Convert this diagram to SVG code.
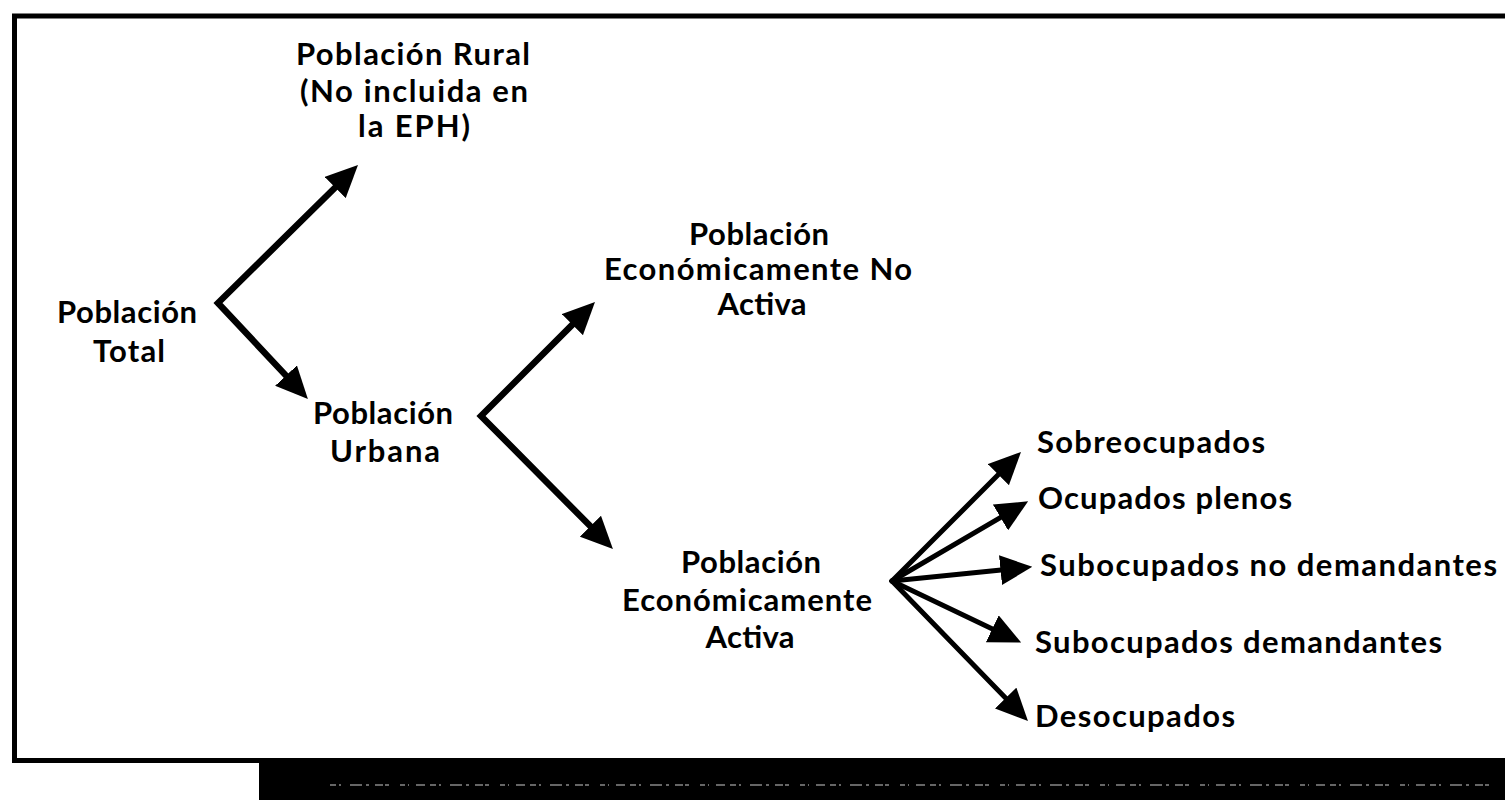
<svg xmlns="http://www.w3.org/2000/svg" width="1505" height="800" viewBox="0 0 1505 800">
<style>
.t{font-family:Lato,"Open Sans","Liberation Sans",sans-serif;font-weight:700;font-size:31px;fill:#000}
.c{text-anchor:middle}
.a{fill:none;stroke:#000;stroke-width:6.5;stroke-linejoin:miter;marker-end:url(#ah)}
.f{fill:none;stroke:#000;stroke-width:5;stroke-linecap:round;marker-end:url(#ah)}
</style>
<defs>
<marker id="ah" markerUnits="userSpaceOnUse" markerWidth="32" markerHeight="30" viewBox="0 0 30 28" refX="10" refY="14" orient="auto-start-reverse">
<path d="M0,0 L30,14 L0,28 z" fill="#000"/>
</marker>
</defs>
<rect width="1505" height="800" fill="#fff"/>
<g id="frame">
<path d="M1505,16 H14.5 V760.5 H1505" fill="none" stroke="#000" stroke-width="5"/>
<rect x="259" y="763" width="1246" height="37" fill="#000"/>
<line x1="330" y1="785" x2="1500" y2="785" stroke="#ccc" stroke-width="2" stroke-dasharray="6 3 2 9 12 4 3 6 8 2 4 11 5 3 1 7 9 5" opacity="0.5"/>
</g>
<g id="connectors">
<path class="a" d="M342.8,180 L218,303 L293.3,383.4" style="marker-start:url(#ah)"/>
<path class="a" d="M579.9,317.1 L481,416 L597.9,533.8" style="marker-start:url(#ah)"/>
<line class="f" x1="892" y1="581" x2="1005.9" y2="467.1"/>
<line class="f" x1="892" y1="581" x2="1009.7" y2="512.1"/>
<line class="f" x1="892" y1="581" x2="1011.1" y2="569"/>
<line class="f" x1="892" y1="581" x2="1001.9" y2="633.4"/>
<line class="f" x1="892" y1="581" x2="1013.1" y2="705.7"/>
</g>
<g id="total"><text class="t c" x="127" y="323" textLength="140" lengthAdjust="spacing">Población</text><text class="t c" x="129" y="362" textLength="72" lengthAdjust="spacing">Total</text></g>
<g id="rural"><text class="t c" x="413" y="65" textLength="234" lengthAdjust="spacing">Población Rural</text><text class="t c" x="414" y="102" textLength="228" lengthAdjust="spacing">(No incluida en</text><text class="t c" x="414" y="137" textLength="112" lengthAdjust="spacing">la EPH)</text></g>
<g id="urbana"><text class="t c" x="383" y="424" textLength="140" lengthAdjust="spacing">Población</text><text class="t c" x="385" y="462" textLength="110" lengthAdjust="spacing">Urbana</text></g>
<g id="pena"><text class="t c" x="759" y="245" textLength="140" lengthAdjust="spacing">Población</text><text class="t c" x="758" y="280" textLength="308" lengthAdjust="spacing">Económicamente No</text><text class="t c" x="762" y="315" textLength="89" lengthAdjust="spacing">Activa</text></g>
<g id="pea"><text class="t c" x="751" y="573" textLength="140" lengthAdjust="spacing">Población</text><text class="t c" x="747" y="611" textLength="250" lengthAdjust="spacing">Económicamente</text><text class="t c" x="750" y="648" textLength="89" lengthAdjust="spacing">Activa</text></g>
<g id="sobre"><text class="t" x="1037" y="453" textLength="228" lengthAdjust="spacing">Sobreocupados</text></g>
<g id="plenos"><text class="t" x="1038" y="509" textLength="254" lengthAdjust="spacing">Ocupados plenos</text></g>
<g id="subnd"><text class="t" x="1040" y="576" textLength="457" lengthAdjust="spacing">Subocupados no demandantes</text></g>
<g id="subd"><text class="t" x="1035" y="653" textLength="407" lengthAdjust="spacing">Subocupados demandantes</text></g>
<g id="deso"><text class="t" x="1035" y="727" textLength="200" lengthAdjust="spacing">Desocupados</text></g>
</svg>
